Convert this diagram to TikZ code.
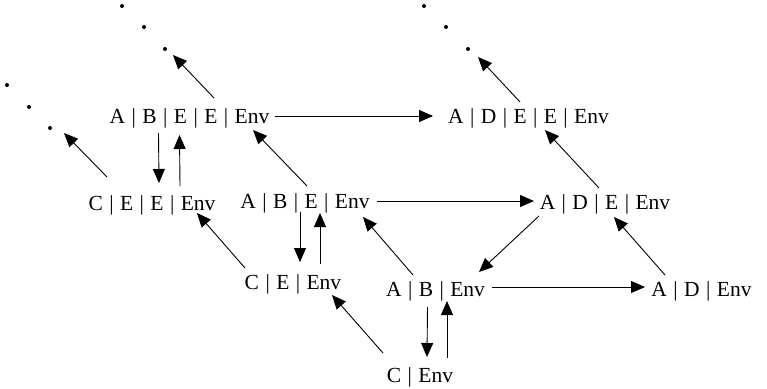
\documentclass[tikz,border=0pt]{standalone}
\usepackage{fontspec}
\setmainfont{Liberation Serif}[WordSpace=1.2]
\usetikzlibrary{arrows.meta,calc}
\begin{document}
\begin{tikzpicture}[x=1pt,y=-1pt,
  lbl/.style={anchor=base,inner sep=0pt,font=\fontsize{21.5}{24}\selectfont},
  dotm/.style={circle,fill=black,inner sep=0pt,minimum size=4pt},
  arr/.style={line width=0.9pt,-{Triangle[length=14pt,width=12pt]}}]
\useasboundingbox (0,0) rectangle (767,388);
% states
\node[lbl] (ABEE) at (189.5,123) {A | B | E | E | Env};
\node[lbl] (ADEE) at (528.5,123) {A | D | E | E | Env};
\node[lbl] (CEE)  at (152,210)   {C | E | E | Env};
\node[lbl] (ABE)  at (305,208)   {A | B | E | Env};
\node[lbl] (ADE)  at (605,209)   {A | D | E | Env};
\node[lbl] (CE)   at (293,289)   {C | E | Env};
\node[lbl] (AB)   at (435.5,296) {A | B | Env};
\node[lbl] (AD)   at (701.5,296) {A | D | Env};
\node[lbl] (C)    at (420,382)   {C | Env};
% ellipsis dots
\node[dotm] (dA1) at (7,85) {};
\node[dotm] (dA2) at (29,107) {};
\node[dotm] (dA3) at (50,128) {};
\node[dotm] (dB1) at (122,6) {};
\node[dotm] (dB2) at (144,27) {};
\node[dotm] (dB3) at (165,49) {};
\node[dotm] (dC1) at (424,6) {};
\node[dotm] (dC2) at (446,27) {};
\node[dotm] (dC3) at (468,49) {};
% connectors
\draw[arr] ($(ABEE.base)+(24.5,-25)$) -- ($(dB3)+(8,6)$);
\draw[arr] ($(CEE.base)+(-45,-33)$) -- ($(dA3)+(14,5)$);
\draw[arr] ($(ABEE.base)+(-31,10)$) -- ($(CEE.base)+(7,-27)$);
\draw[arr] ($(CEE.base)+(28,-24)$) -- ($(ABEE.base)+(-10,12)$);
\draw[arr] ($(ABEE.base)+(85.5,-7)$) -- ($(ADEE.base)+(-95.5,-7)$);
\draw[arr] ($(ABE.base)+(2,-22)$) -- ($(ABEE.base)+(63.5,7)$);
\draw[arr] ($(ADEE.base)+(-8.5,-21)$) -- ($(dC3)+(10,8)$);
\draw[arr] ($(ADE.base)+(-6,-21)$) -- ($(ADEE.base)+(16.5,7)$);
\draw[arr] ($(ABE.base)+(72,-7)$) -- ($(ADE.base)+(-71,-8)$);
\draw[arr] ($(ABE.base)+(-5,4)$) -- ($(CE.base)+(7,-27)$);
\draw[arr] ($(CE.base)+(27,-25)$) -- ($(ABE.base)+(15,5)$);
\draw[arr] ($(CE.base)+(-48,-21)$) -- ($(CEE.base)+(45,3)$);
\draw[arr] ($(AB.base)+(-22.5,-21)$) -- ($(ABE.base)+(58,9)$);
\draw[arr] ($(ADE.base)+(-66,7)$) -- ($(AB.base)+(43.5,-24)$);
\draw[arr] ($(AD.base)+(-36.5,-21)$) -- ($(ADE.base)+(9,8)$);
\draw[arr] ($(AB.base)+(56.5,-9)$) -- ($(AD.base)+(-56.5,-9)$);
\draw[arr] ($(AB.base)+(-8,11)$) -- ($(C.base)+(7,-25)$);
\draw[arr] ($(C.base)+(27,-24)$) -- ($(AB.base)+(11.5,5)$);
\draw[arr] ($(C.base)+(-37,-29)$) -- ($(CE.base)+(39,6)$);
\end{tikzpicture}
\end{document}
